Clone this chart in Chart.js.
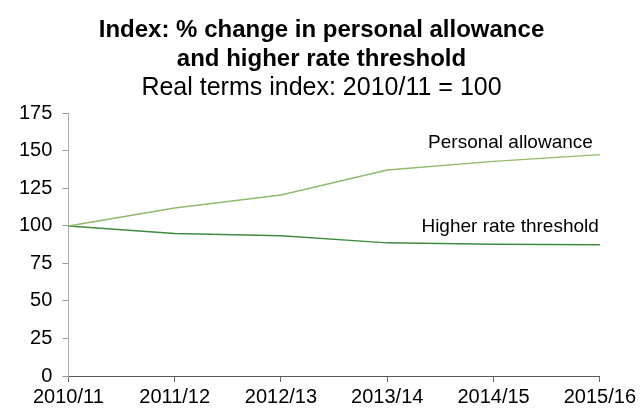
<!DOCTYPE html>
<html>
<head>
<meta charset="utf-8">
<script src="https://cdn.jsdelivr.net/npm/chart.js@4/dist/chart.umd.min.js"></script>
<style>
  html, body { margin: 0; padding: 0; background: #fff; }
  #wrap { width: 641px; height: 412px; }
</style>
</head>
<body>
<div id="wrap"><canvas id="indexChart" width="641" height="412"></canvas></div>
<script>
// --- Personal allowance vs higher rate threshold, real terms index ---

const years = ['2010/11', '2011/12', '2012/13', '2013/14', '2014/15', '2015/16'];
const personalAllowance = [100, 112, 120.6, 137.2, 143, 147.5];
const higherRateThreshold = [100, 95, 93.5, 88.7, 87.8, 87.4];
const yTicks = [0, 25, 50, 75, 100, 125, 150, 175];

const FONT = "'Liberation Sans', Arial, sans-serif";

// line labels sit just above the last point of each series
const lineLabels = {
  id: 'lineLabels',
  afterDatasetsDraw(chart) {
    const { ctx, scales } = chart;
    const last = years.length - 1;
    const items = [
      { text: 'Personal allowance', value: personalAllowance[last], dx: -7, dy: -7 },
      { text: 'Higher rate threshold', value: higherRateThreshold[last], dx: -1, dy: -13 }
    ];
    ctx.save();
    ctx.font = '19px ' + FONT;
    ctx.fillStyle = '#000';
    ctx.textAlign = 'right';
    ctx.textBaseline = 'alphabetic';
    items.forEach(it => {
      const x = scales.x.getPixelForValue(last) + it.dx;
      const y = scales.y.getPixelForValue(it.value) + it.dy;
      ctx.fillText(it.text, x, y);
    });
    ctx.restore();
  }
};

new Chart(document.getElementById('indexChart'), {
  type: 'line',
  data: {
    labels: years,
    datasets: [
      {
        label: 'Personal allowance',
        data: personalAllowance,
        borderColor: '#8fbb6c',
        borderWidth: 1.5,
        pointRadius: 0,
        tension: 0
      },
      {
        label: 'Higher rate threshold',
        data: higherRateThreshold,
        borderColor: '#3f8c3f',
        borderWidth: 1.5,
        pointRadius: 0,
        tension: 0
      }
    ]
  },
  options: {
    responsive: false,
    animation: false,
    layout: { padding: { left: 9, right: 7, top: 0, bottom: 0 } },
    plugins: {
      legend: { display: false },
      tooltip: { enabled: false },
      title: {
        display: true,
        text: ['Index: % change in personal allowance', 'and higher rate threshold'],
        color: '#000',
        font: { family: FONT, size: 24, weight: 'bold', lineHeight: 1.2 },
        padding: { top: 16, bottom: 0 }
      },
      subtitle: {
        display: true,
        text: 'Real terms index: 2010/11 = 100',
        color: '#000',
        font: { family: FONT, size: 25, weight: 'normal', lineHeight: 1.15 },
        padding: { top: 0, bottom: 11 }
      }
    },
    scales: {
      x: {
        offset: false,
        grid: { display: true, drawOnChartArea: false, drawTicks: true, tickLength: 6, tickColor: '#666' },
        border: { color: '#555', width: 1 },
        ticks: {
          color: '#000',
          font: { family: FONT, size: 20, lineHeight: 1 },
          padding: 5,
          maxRotation: 0,
          autoSkip: false
        }
      },
      y: {
        min: 0,
        max: 175,
        afterBuildTicks(axis) {
          axis.ticks = yTicks.map(v => ({ value: v }));
        },
        grid: { display: true, drawOnChartArea: false, drawTicks: true, tickLength: 6, tickColor: '#999' },
        border: { color: '#aaa', width: 1 },
        ticks: {
          color: '#000',
          font: { family: FONT, size: 20 },
          padding: 10
        }
      }
    }
  },
  plugins: [lineLabels]
});
</script>
</body>
</html>
